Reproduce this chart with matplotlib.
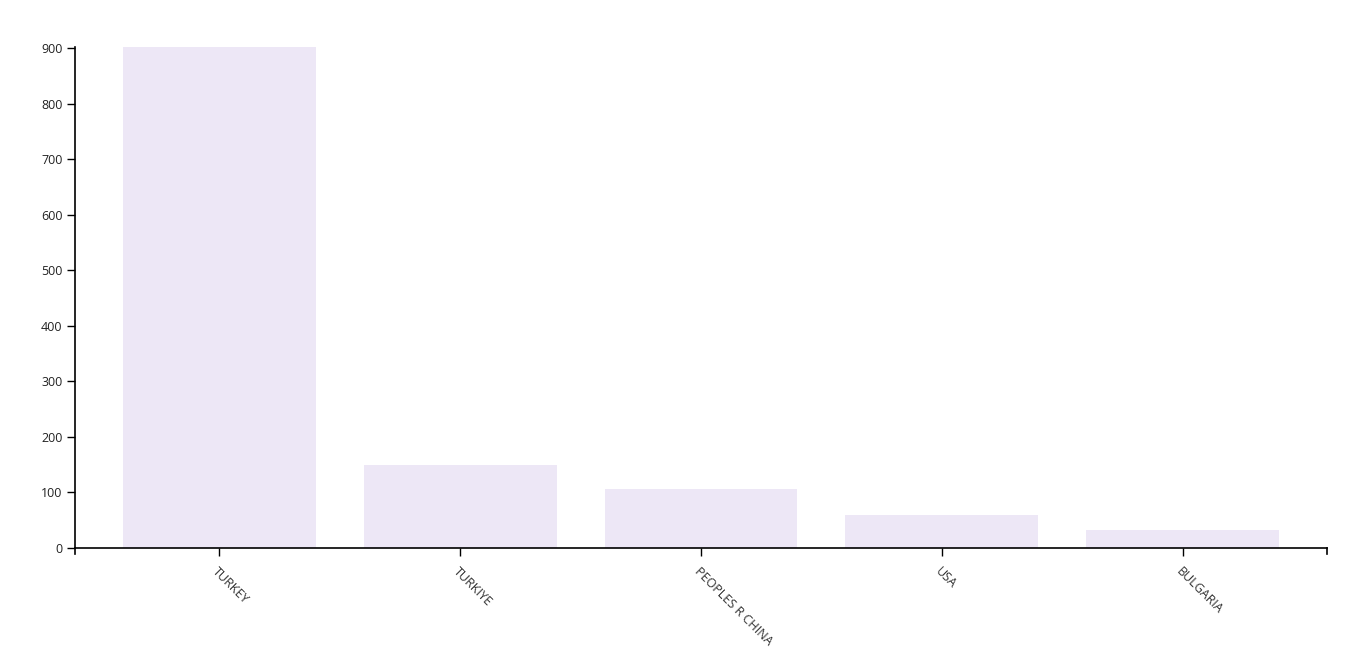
import matplotlib
matplotlib.use("Agg")
import matplotlib.pyplot as plt
from matplotlib.lines import Line2D

categories = ["TURKEY", "TURKIYE", "PEOPLES R CHINA", "USA", "BULGARIA"]
values = [902, 150, 106, 59, 32]
yticks = [0, 100, 200, 300, 400, 500, 600, 700, 800, 900]

plt.rcParams['font.family'] = ['Open Sans', 'DejaVu Sans']

fig = plt.figure(figsize=(13.51, 6.52), dpi=100)
ax = fig.add_axes([75/1351, 1 - 548/652, (1327-75)/1351, (548-47)/652])

x = list(range(len(categories)))
ax.bar(x, values, width=0.8, color="#ede7f6", edgecolor="none")
outer = 0.6
ax.set_xlim(-outer, len(categories) - 1 + outer)
ax.set_ylim(0, 902)
ax.set_yticks(yticks)
ax.set_xticks(x)
ax.set_xticklabels(categories, rotation=-45, ha='left', va='top',
                   rotation_mode='anchor', fontsize=9, color="#333333")
for lbl in ax.get_yticklabels():
    lbl.set_fontsize(9)
    lbl.set_color("#222222")

for s in ["top", "right"]:
    ax.spines[s].set_visible(False)
for s in ["left", "bottom"]:
    ax.spines[s].set_color("#000000")
    ax.spines[s].set_linewidth(1.2)
ax.tick_params(axis='both', length=6, width=1, color="#000000", pad=3)
ax.tick_params(axis='x', pad=6)

# outer end ticks at the ends of the x domain, like d3
for xf in [0, 1]:
    ax.add_line(Line2D([xf, xf], [0, -6/501], transform=ax.transAxes,
                       color="#000000", lw=1.2, clip_on=False))

fig.savefig("out.png", dpi=100)
